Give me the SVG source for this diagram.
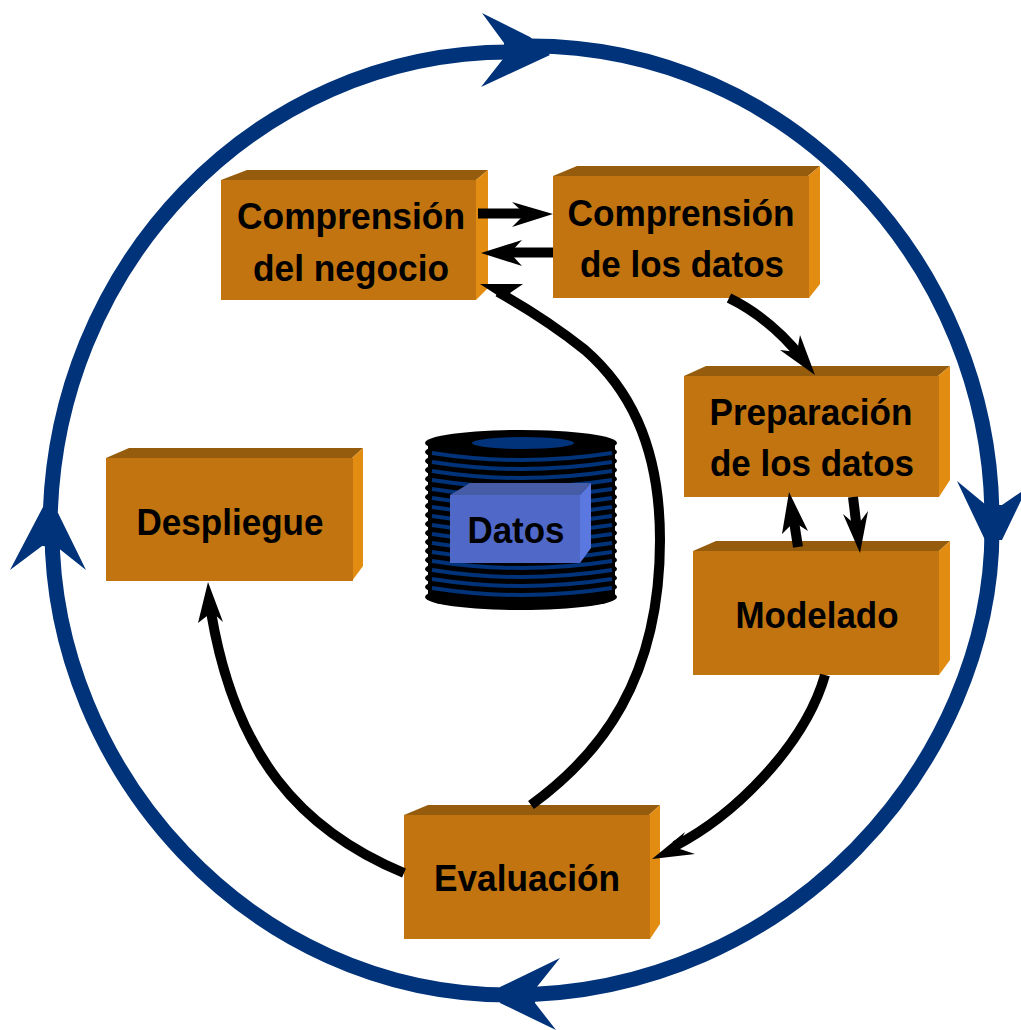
<svg xmlns="http://www.w3.org/2000/svg" width="1021" height="1030" viewBox="0 0 1021 1030">
<style>
.f{fill:#c1740f}.t{fill:#955c0d}.s{fill:#e38c12}
.l{font:bold 37px "Liberation Sans",Arial,sans-serif;text-anchor:middle;fill:#000}
.c{fill:none;stroke:#000;stroke-width:10}
.h{fill:#000}
.b{fill:#00337a}
</style>
<rect width="1021" height="1030" fill="#fff"/>
<g id="ciclo">
<path fill="none" stroke="#00337a" stroke-width="15" d="M50 530C50 266 256 52 510 52M530 46C790 46 992 265 992 520M992 530C992 760 790 995 510 995M510 995C250 995 52 770 52 530"/>
<path class="b" d="M482 13L530 37L550 55L481 87L503 59L504 43Z"/>
<path class="b" d="M957 481L986 505L1002 505L1027 488L1002 540L985 540Z"/>
<path class="b" d="M43 507L10 570L42 546L57 547L86 570L58 513Z"/>
<path class="b" d="M500 987L560 958L536 988L535 1003L556 1030L500 1003Z"/>
</g>
<g id="comprension-negocio">
<path class="t" d="M221 180L247 170H488L476 180Z"/><path class="s" d="M476 180L488 170V288L476 300Z"/><rect class="f" x="221" y="180" width="255" height="120"/>
<text class="l" x="351" y="229" textLength="228" lengthAdjust="spacingAndGlyphs">Comprensión</text><text class="l" x="351" y="281" textLength="196" lengthAdjust="spacingAndGlyphs">del negocio</text>
</g>
<g id="comprension-datos">
<path class="t" d="M553 176L577 166H820L808 176Z"/><path class="s" d="M808 176L820 166V284L809 298Z"/><rect class="f" x="553" y="176" width="256" height="122"/>
<text class="l" x="681" y="226" textLength="227" lengthAdjust="spacingAndGlyphs">Comprensión</text><text class="l" x="682" y="277" textLength="204" lengthAdjust="spacingAndGlyphs">de los datos</text>
</g>
<g id="preparacion">
<path class="t" d="M684 376L706 366H950L938 376Z"/><path class="s" d="M938 376L950 366V480L939 497Z"/><rect class="f" x="684" y="376" width="255" height="121"/>
<text class="l" x="811" y="425" textLength="203" lengthAdjust="spacingAndGlyphs">Preparación</text><text class="l" x="812" y="476" textLength="204" lengthAdjust="spacingAndGlyphs">de los datos</text>
</g>
<g id="modelado">
<path class="t" d="M693 551L716 541H950L939 551Z"/><path class="s" d="M939 551L950 541V660L939 675Z"/><rect class="f" x="693" y="551" width="246" height="124"/>
<text class="l" x="817" y="628" textLength="163" lengthAdjust="spacingAndGlyphs">Modelado</text>
</g>
<g id="evaluacion">
<path class="t" d="M404 815L428 805H660L649 815Z"/><path class="s" d="M649 815L660 805V924L650 939Z"/><rect class="f" x="404" y="815" width="246" height="124"/>
<text class="l" x="527" y="891" textLength="186" lengthAdjust="spacingAndGlyphs">Evaluación</text>
</g>
<g id="despliegue">
<path class="t" d="M106 458L129 448H363L352 458Z"/><path class="s" d="M352 458L363 448V566L352 581Z"/><rect class="f" x="106" y="458" width="247" height="123"/>
<text class="l" x="230" y="535" textLength="187" lengthAdjust="spacingAndGlyphs">Despliegue</text>
</g>
<g id="datos">
<rect x="428" y="443" width="187" height="155" fill="#000"/>
<g fill="#000">
<ellipse cx="521" cy="443" rx="96" ry="13"/><ellipse cx="521" cy="452" rx="96" ry="13"/><ellipse cx="521" cy="461" rx="96" ry="13"/><ellipse cx="521" cy="470" rx="96" ry="13"/><ellipse cx="521" cy="479" rx="96" ry="13"/><ellipse cx="521" cy="488" rx="96" ry="13"/><ellipse cx="521" cy="497" rx="96" ry="13"/><ellipse cx="521" cy="506" rx="96" ry="13"/><ellipse cx="521" cy="515" rx="96" ry="13"/><ellipse cx="521" cy="524" rx="96" ry="13"/><ellipse cx="521" cy="533" rx="96" ry="13"/><ellipse cx="521" cy="542" rx="96" ry="13"/><ellipse cx="521" cy="551" rx="96" ry="13"/><ellipse cx="521" cy="560" rx="96" ry="13"/><ellipse cx="521" cy="569" rx="96" ry="13"/><ellipse cx="521" cy="578" rx="96" ry="13"/><ellipse cx="521" cy="587" rx="96" ry="13"/><ellipse cx="521" cy="597" rx="96" ry="13"/>
</g>
<ellipse cx="523" cy="443" rx="51" ry="6" fill="#00337a"/>
<path fill="none" stroke="#00337a" stroke-width="4" d="M432 453Q521 467 612 453M432 462Q521 476 612 462M432 471Q521 485 612 471M432 480Q521 494 612 480M432 489Q521 503 612 489M432 498Q521 512 612 498M432 507Q521 521 612 507M432 516Q521 530 612 516M432 525Q521 539 612 525M432 534Q521 548 612 534M432 543Q521 557 612 543M432 552Q521 566 612 552M432 561Q521 575 612 561M432 570Q521 584 612 570M432 579Q521 593 612 579M432 588Q521 602 612 588"/>
<path fill="#465ca6" d="M450 495L470 483H591L580 495Z"/>
<path fill="#5b78e0" d="M580 495L591 483V548L580 563Z"/>
<rect x="450" y="495" width="130" height="68" fill="#5069c9"/>
<text class="l" x="516" y="543" textLength="97" lengthAdjust="spacingAndGlyphs">Datos</text>
</g>
<g id="conectores">
<path class="c" d="M478 213.500H525M553 252.500H510"/>
<path class="h" d="M553 214L512 202L525 214L512 227ZM481 253L522 240L510 253L522 266Z"/>
<path class="c" d="M729 298Q770 318 802 358"/>
<path class="h" d="M815 375L780 350L797 352L800 335Z"/>
<path class="c" d="M798 547L793 515"/>
<path class="h" d="M789 492L808 531L794 522L782 534Z"/>
<path class="c" d="M853 497L857 530"/>
<path class="h" d="M860 553L843 514L857 526L868 511Z"/>
<path class="c" d="M825 675C805 745 735 815 675 846"/>
<path class="h" d="M652 859L685 832L677 848L695 854Z"/>
<path class="c" d="M531 805C600 755 660 680 660 540C660 440 625 385 585 350C560 330 530 310 498 292"/>
<path class="h" d="M480 284L523 284L510 293L517 308Z"/>
<path class="c" d="M404 873C300 830 235 755 211 612"/>
<path class="h" d="M208 582L223 622L212 612L198 623Z"/>
</g>
</svg>
